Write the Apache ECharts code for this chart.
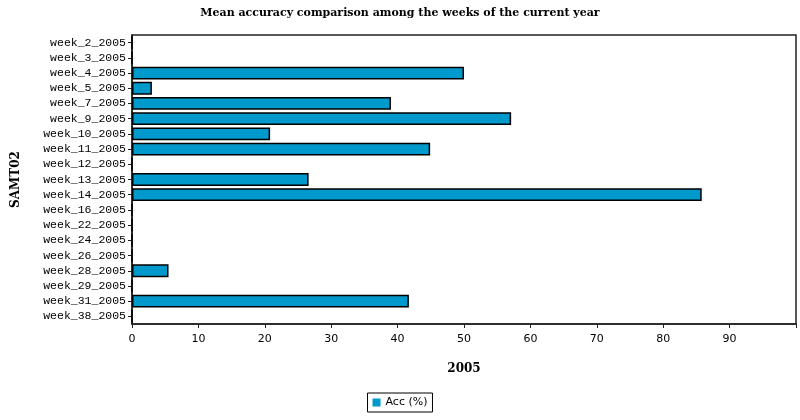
<!DOCTYPE html>
<html>
<head>
<meta charset="utf-8">
<script src="https://cdn.jsdelivr.net/npm/echarts@6/dist/echarts.min.js"></script>
<style>html,body{margin:0;padding:0;background:#fff;}#c{width:800px;height:420px;}</style>
</head>
<body>
<div id="c"></div>
<script>
var categories = ["week_2_2005","week_3_2005","week_4_2005","week_5_2005","week_7_2005","week_9_2005","week_10_2005","week_11_2005","week_12_2005","week_13_2005","week_14_2005","week_16_2005","week_22_2005","week_24_2005","week_26_2005","week_28_2005","week_29_2005","week_31_2005","week_38_2005"];
var accValues = [0, 0, 50.0, 3.0, 39.0, 57.1, 20.8, 44.9, 0, 26.6, 85.8, 0, 0, 0, 0, 5.5, 0, 41.7, 0];
var xTicks = [0, 10, 20, 30, 40, 50, 60, 70, 80, 90];

var chart = echarts.init(document.getElementById('c'), null, {renderer: 'canvas'});
chart.setOption({
  animation: false,
  backgroundColor: '#fff',
  title: {
    text: 'Mean accuracy comparison among the weeks of the current year',
    left: 'center', top: 3,
    textStyle: {fontFamily: 'DejaVu Serif', fontWeight: 'bold', fontSize: 11, color: '#000'}
  },
  legend: {
    bottom: 8, left: 'center',
    data: ['Acc (%)'],
    itemWidth: 8, itemHeight: 8, itemGap: 5,
    borderColor: '#000', borderWidth: 1, borderRadius: 0,
    padding: [4, 5, 4, 5],
    icon: 'rect',
    itemStyle: {borderWidth: 0},
    textStyle: {fontFamily: 'DejaVu Sans', fontSize: 11, color: '#000'}
  },
  grid: {
    left: 132, top: 35, right: 4, bottom: 96,
    outerBoundsMode: 'none', containLabel: false,
    show: true, borderColor: '#222', borderWidth: 1.5, backgroundColor: '#fff'
  },
  xAxis: {
    type: 'value', min: 0, max: 100, interval: 10,
    name: '2005', nameLocation: 'middle', nameGap: 39,
    nameTextStyle: {fontFamily: 'DejaVu Serif', fontWeight: 'bold', fontSize: 12, color: '#000'},
    axisLine: {show: true, lineStyle: {color: '#222', width: 1.5}},
    axisTick: {show: true, length: 4, lineStyle: {color: '#222'}},
    splitLine: {show: false},
    axisLabel: {
      fontFamily: 'DejaVu Sans', fontSize: 11, color: '#000', margin: 10,
      formatter: function (v) { return xTicks.indexOf(v) >= 0 ? String(v) : ''; }
    }
  },
  yAxis: {
    type: 'category', data: categories, inverse: true,
    name: 'SAMT02', nameLocation: 'middle', nameGap: 110, nameRotate: 90,
    nameTextStyle: {fontFamily: 'DejaVu Serif', fontWeight: 'bold', fontSize: 12, color: '#000'},
    axisLine: {show: true, lineStyle: {color: '#222', width: 1.5}},
    axisTick: {show: true, alignWithLabel: true, interval: 0, length: 4, lineStyle: {color: '#222'}},
    axisLabel: {interval: 0, fontFamily: 'Liberation Mono', fontSize: 11.5, color: '#000', margin: 6}
  },
  series: [{
    name: 'Acc (%)', type: 'bar', data: accValues,
    barCategoryGap: '16%',
    itemStyle: {color: '#0099cc', borderColor: '#000', borderWidth: 1.5}
  }]
});
</script>
</body>
</html>
